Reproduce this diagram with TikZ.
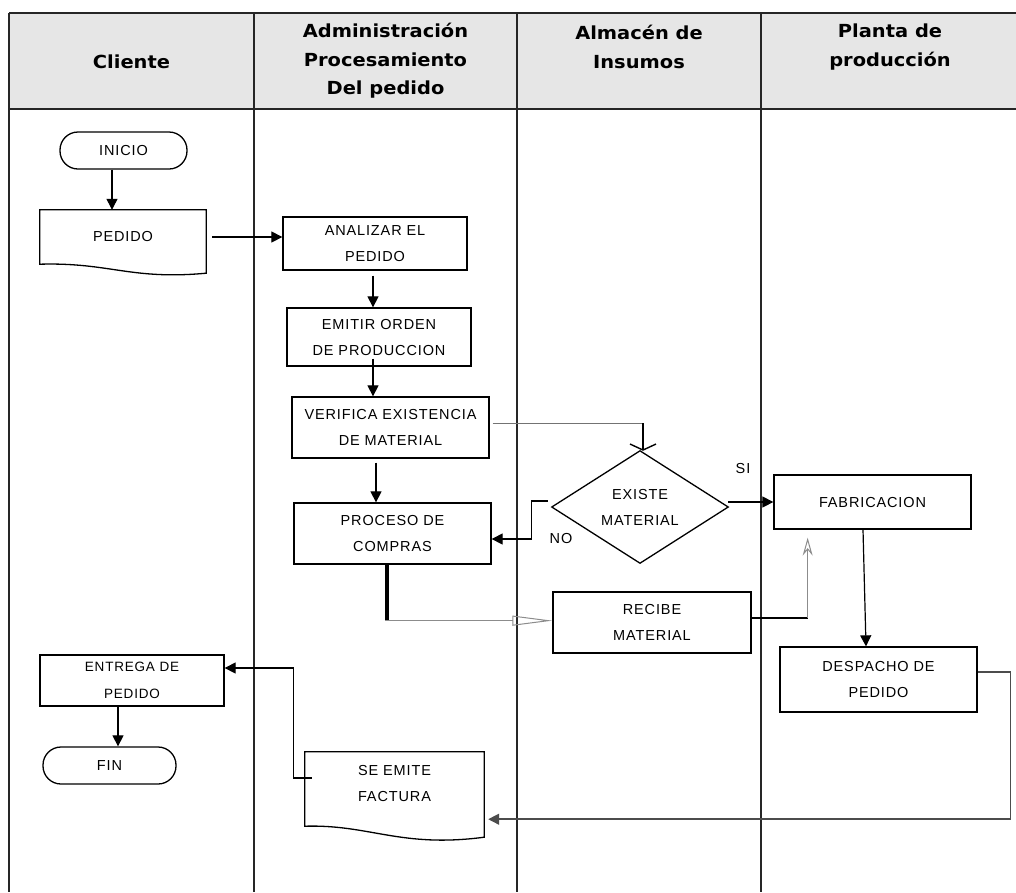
\documentclass[tikz,border=0pt]{standalone}
\usepackage{fontspec}
\usetikzlibrary{arrows.meta,calc}
\newfontfamily\hdrfont{DejaVu Sans}[FakeStretch=1.08]
\newfontfamily\bodyfont{Liberation Sans}[LetterSpace=6]
\definecolor{hdrgray}{HTML}{E6E6E6}
\begin{document}
\begin{tikzpicture}[x=1pt,y=-1pt,
  tbl/.style={line width=1.8pt, draw=black!85},
  hdr/.style={align=center, inner sep=0pt, font={\hdrfont\bfseries\fontsize{18pt}{28.5pt}\selectfont}},
  txt/.style={inner sep=0pt, align=center, font={\bodyfont\fontsize{14.5pt}{26pt}\selectfont}},
  box/.style={txt, draw, line width=1.3pt},
  term/.style={box, rounded corners=18pt},
  arr/.style={line width=1.2pt, -{Triangle[length=11pt,width=11pt]}},
  thinline/.style={line width=1pt, draw=black!55},
  openarr/.style={line width=1pt, draw=black!45, -{Triangle[open,length=40pt,width=10pt]}},
  barbarr/.style={line width=1pt, draw=black!45, -{Stealth[open,length=18pt,width=10pt,inset=6pt]}},
  crossarr/.style={line width=1.4pt, -{Straight Barb[length=6pt,width=26pt]}}
]
\useasboundingbox (0,0) rectangle (1016,892);
% table
\fill[hdrgray] (9,13) rectangle (1016,109);
\draw[tbl] (9,13) -- (1016,13);
\draw[tbl] (9,109) -- (1016,109);
\foreach \cx in {9,254,517,761} \draw[tbl] (\cx,13) -- (\cx,892);
% headers
\node[hdr] (hcli) at (131.5,62) {Cliente};
\node[hdr] (hadm) at (385.5,61) {Administración\\Procesamiento\\Del pedido};
\node[hdr] (halm) at (639,47) {Almacén de\\Insumos};
\node[hdr] (hpla) at (890,47) {Planta de\\producción};
% nodes
\node[term, minimum width=127pt, minimum height=37pt] (inicio) at (123.5,150.5) {INICIO};
\node[txt, minimum width=166pt, minimum height=54pt] (pedido) at (123,237) {PEDIDO};
\draw[line width=1.3pt] (pedido.north west) -- (pedido.north east) -- ($(pedido.south east)+(0,9)$)
  .. controls ($(pedido.south east)+(-76,16)$) and ($(pedido.south west)+(70,-2)$) .. (pedido.south west) -- cycle;
\node[box, minimum width=184pt, minimum height=53pt] (analizar) at (375,243.5) {ANALIZAR EL\\PEDIDO};
\node[box, minimum width=184pt, minimum height=58pt] (emitir) at (379,337) {EMITIR ORDEN\\DE PRODUCCION};
\node[box, minimum width=197pt, minimum height=61pt] (verifica) at (390.5,427.5) {VERIFICA EXISTENCIA\\DE MATERIAL};
\node[box, minimum width=197pt, minimum height=61pt] (proceso) at (392.5,533.5) {PROCESO DE\\COMPRAS};
\node[txt, minimum width=176pt, minimum height=112pt] (existe) at (640,507) {EXISTE\\MATERIAL};
\draw[line width=1.3pt] (existe.north) -- (existe.east) -- (existe.south) -- (existe.west) -- cycle;
\node[box, minimum width=197pt, minimum height=54pt] (fab) at (872.5,502) {FABRICACION};
\node[box, minimum width=198pt, minimum height=61pt] (recibe) at (652,622.5) {RECIBE\\MATERIAL};
\node[box, minimum width=197pt, minimum height=65pt] (desp) at (878.5,679.5) {DESPACHO DE\\PEDIDO};
\node[txt, minimum width=179pt, minimum height=62pt] (factura) at (394.5,783) {SE EMITE\\FACTURA};
\draw[line width=1.3pt] (factura.north west) -- (factura.north east) -- ($(factura.south east)+(0,23)$)
  .. controls ($(factura.south east)+(-84,34)$) and ($(factura.south west)+(65,10)$) .. ($(factura.south west)+(0,12)$) -- cycle;
\node[box, minimum width=184pt, minimum height=51pt, font={\bodyfont\fontsize{13.5pt}{27pt}\selectfont}] (entrega) at (132,680.5) {ENTREGA DE\\PEDIDO};
\node[term, minimum width=133pt, minimum height=37pt] (fin) at (109.5,765.5) {FIN};
% labels
\node[txt] (lsi) at (743,468) {SI};
\node[txt] (lno) at (561,538) {NO};
% connectors
\draw[arr] ([xshift=-11.5pt]inicio.south) -- ([xshift=-11pt]pedido.north);
\draw[arr] ([xshift=6pt]pedido.east) -- (pedido.east -| analizar.west);
\draw[arr] ([xshift=-2pt,yshift=-5pt]analizar.south) -- ([xshift=-6pt]emitir.north);
\draw[arr] ([xshift=-6pt,yshift=8pt]emitir.south) -- ([xshift=-17.5pt]verifica.north);
\draw[arr] ([xshift=-14.5pt,yshift=-4pt]verifica.south) -- ([xshift=-16.5pt]proceso.north);
\coordinate (vstart) at ([xshift=3pt,yshift=4.5pt]verifica.east);
\coordinate (vcorner) at ($(vstart -| existe.north)+(3,0)$);
\draw[thinline] (vstart) -- (vcorner);
\draw[crossarr] (vcorner) -- ($(existe.north)+(3,0)$);
\draw[arr] ($(existe.west)+(-4,-6)$) -- ++(-16,0) |- ([yshift=-5.5pt]proceso.east);
\draw[arr] (fab.west -| existe.east) -- (fab.west);
\draw[arr] ([xshift=-9.5pt]fab.south) -- ([xshift=-12.5pt]desp.north);
\draw[line width=3.5pt] ([xshift=-5.5pt]proceso.south) -- ++(0,56) coordinate (pc);
\draw[openarr] ($(pc)+(-1.75,0)$) -- (pc -| recibe.west);
\draw[line width=1.3pt] ([yshift=4.5pt]recibe.east) -- ++(56,0) coordinate (rc);
\coordinate (rcend) at ($(rc |- fab.south)+(0,8)$);
\draw[barbarr] (rc) -- (rcend);
\draw[arr, draw=black!70, line width=1.5pt] ([yshift=7.5pt]desp.east) -- ++(33,0) |- ($(factura.south east)+(4,5)$);
\draw[arr] ($(factura.west)+(7,-5)$) -- ++(-18,0) |- ([yshift=12.5pt]entrega.east);
\draw[arr] ([xshift=-14pt]entrega.south) -- ([xshift=-14pt]entrega.south |- fin.north);
\end{tikzpicture}
\end{document}
